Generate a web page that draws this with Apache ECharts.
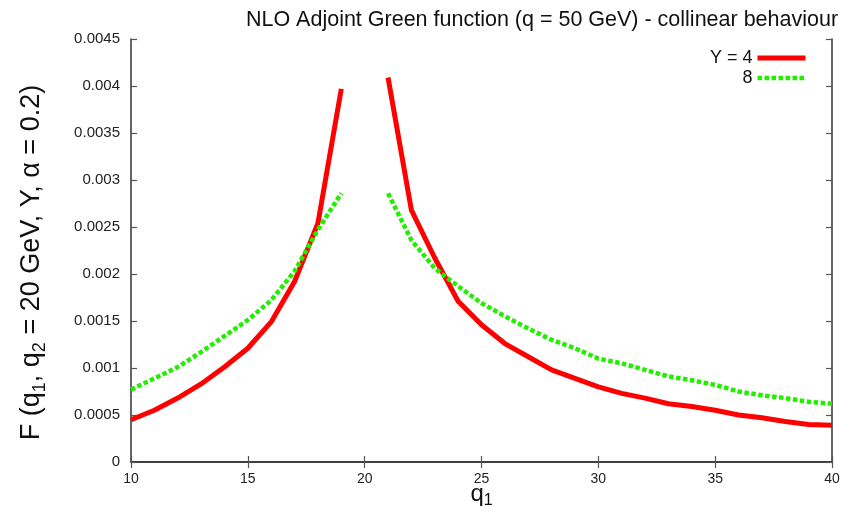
<!DOCTYPE html>
<html>
<head>
<meta charset="utf-8">
<script src="https://cdn.jsdelivr.net/npm/echarts@6/dist/echarts.min.js"></script>
<style>html,body{margin:0;padding:0;background:#fff}#c{width:851px;height:515px}</style>
</head>
<body>
<div id="c"></div>
<script>
const q1 = [10,11,12,13,14,15,16,17,18,19,20,21,22,23,24,25,26,27,28,29,30,31,32,33,34,35,36,37,38,39,40];
const y4 = [0.00045,0.00055,0.00068,0.00083,0.00101,0.00121,0.00149,0.00192,0.00254,0.00397,'-',
            0.00409,0.00268,0.00217,0.00171,0.00146,0.00126,0.00112,0.00098,0.00089,0.00080,
            0.00073,0.00068,0.00062,0.00059,0.00055,0.00050,0.00047,0.00043,0.00040,0.00039];
const y8 = [0.00077,0.00089,0.00101,0.00117,0.00134,0.00151,0.00172,0.00203,0.00247,0.00286,'-',
            0.00286,0.00236,0.00206,0.00187,0.00169,0.00155,0.00142,0.00130,0.00121,0.00110,
            0.00105,0.00098,0.00091,0.00087,0.00082,0.00075,0.00071,0.00068,0.00064,0.00062];
const seriesNames = ['Y = 4', '8'];
const xTicks = {min: 10, max: 40, interval: 5};
const yTicks = {min: 0, max: 0.0045, interval: 0.0005};

const font = 'Liberation Sans, Arial, Helvetica, sans-serif';
const pair = (ys) => q1.map((x, i) => [x, ys[i]]);
const axisLineStyle = {show: true, lineStyle: {color: '#333', width: 1.5}};
const tickStyle = {show: true, inside: true, length: 6, lineStyle: {color: '#555', width: 1.2}};
const redStyle = {color: '#ff0000', width: 5, cap: 'butt', join: 'round'};
const greenStyle = {color: '#22ee00', width: 4.5, type: [4.5, 2.5], cap: 'butt'};

const chart = echarts.init(document.getElementById('c'), null, {renderer: 'canvas'});
chart.setOption({
  animation: false,
  backgroundColor: '#fff',
  title: {
    text: 'NLO Adjoint Green function (q = 50 GeV) - collinear behaviour',
    left: 537, top: 4, textAlign: 'center',
    textStyle: {fontFamily: font, fontSize: 21.5, fontWeight: 'normal', color: '#111'}
  },
  grid: {left: 131, right: 19, top: 39, bottom: 53, show: false, containLabel: false, outerBoundsMode: 'none'},
  legend: {
    orient: 'vertical', right: 38, top: 44, align: 'right',
    itemWidth: 48, itemHeight: 14, itemGap: 2,
    itemStyle: {opacity: 0},
    data: [
      {name: seriesNames[0], lineStyle: redStyle},
      {name: seriesNames[1], lineStyle: greenStyle}
    ],
    textStyle: {fontFamily: font, fontSize: 18, lineHeight: 14, color: '#111'}
  },
  xAxis: [{
    type: 'value', position: 'bottom', min: xTicks.min, max: xTicks.max, interval: xTicks.interval,
    axisLine: axisLineStyle, axisTick: tickStyle, splitLine: {show: false},
    axisLabel: {fontFamily: font, fontSize: 14, color: '#222', margin: 10},
    name: 'q{s|1}', nameLocation: 'middle', nameGap: 17, nameMoveOverlap: false,
    nameTextStyle: {fontFamily: font, fontSize: 24, color: '#111',
      rich: {s: {fontFamily: font, fontSize: 16, color: '#111', padding: [14, 0, 0, 0]}}}
  }, {
    type: 'value', position: 'top', min: xTicks.min, max: xTicks.max, interval: xTicks.interval,
    axisLine: axisLineStyle, axisTick: tickStyle, axisLabel: {show: false}, splitLine: {show: false}
  }],
  yAxis: [{
    type: 'value', position: 'left', min: yTicks.min, max: yTicks.max, interval: yTicks.interval,
    axisLine: axisLineStyle, axisTick: tickStyle, splitLine: {show: false},
    axisLabel: {fontFamily: font, fontSize: 15, color: '#222', margin: 11},
    name: 'F (q{s|1}, q{s|2} = 20 GeV, Y, α = 0.2)', nameLocation: 'middle', nameGap: 82, nameRotate: 90,
    nameMoveOverlap: false,
    nameTextStyle: {fontFamily: font, fontSize: 27, color: '#111', padding: [0, 24, 0, 0],
      rich: {s: {fontFamily: font, fontSize: 18, color: '#111', padding: [16, 0, 0, 0]}}}
  }, {
    type: 'value', position: 'right', min: yTicks.min, max: yTicks.max, interval: yTicks.interval,
    axisLine: axisLineStyle, axisTick: tickStyle, axisLabel: {show: false}, splitLine: {show: false}
  }],
  series: [{
    name: seriesNames[0], type: 'line', xAxisIndex: 0, yAxisIndex: 0,
    data: pair(y4), symbol: 'none', connectNulls: false, smooth: false,
    itemStyle: {color: '#ff0000'},
    lineStyle: redStyle
  }, {
    name: seriesNames[1], type: 'line', xAxisIndex: 0, yAxisIndex: 0,
    data: pair(y8), symbol: 'none', connectNulls: false, smooth: false,
    itemStyle: {color: '#22ee00'},
    lineStyle: greenStyle
  }]
});
</script>
</body>
</html>
